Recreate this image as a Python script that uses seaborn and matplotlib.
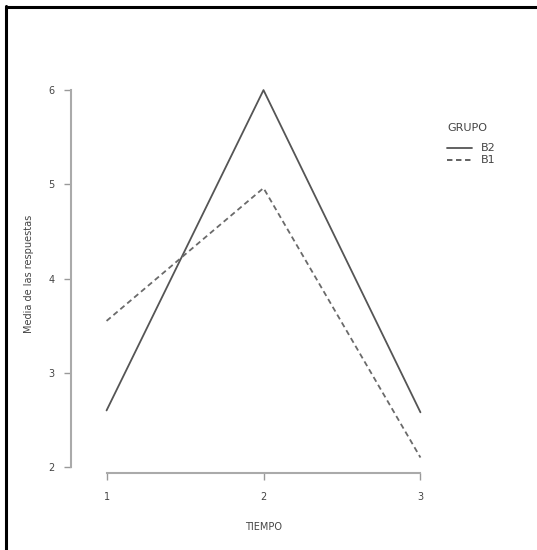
import pandas as pd
import matplotlib
matplotlib.use('Agg')
import matplotlib.pyplot as plt
import seaborn as sns

# values
tiempo = [1, 2, 3]
grupos = ['B2', 'B1']
media_b2 = [2.6, 6.0, 2.58]
media_b1 = [3.55, 4.96, 2.1]
y_ticks = [2, 3, 4, 5, 6]
x_ticks = [1, 2, 3]

df = pd.DataFrame({
    'TIEMPO': tiempo * 2,
    'media': media_b2 + media_b1,
    'GRUPO': ['B2'] * 3 + ['B1'] * 3,
})

sns.set_style('white')
plt.rcParams['font.family'] = ['DejaVu Sans']

W, H = 537, 550
fig = plt.figure(figsize=(W / 100, H / 100), dpi=100)
# plot region in pixels (left, top, right, bottom)
l, t, r, b = 94, 75, 433, 473
ax = fig.add_axes([l / W, 1 - b / H, (r - l) / W, (b - t) / H])

sns.lineplot(data=df, x='TIEMPO', y='media', hue='GRUPO', style='GRUPO',
             hue_order=grupos, style_order=grupos,
             palette={'B2': '#555555', 'B1': '#6a6a6a'},
             dashes={'B2': '', 'B1': (3, 2)}, linewidth=1.3, ax=ax, legend=False)

ax.set_xlim(0.92, 3.08)
ax.set_ylim(1.936, 6.16)
ax.set_xticks(x_ticks)
ax.set_yticks(y_ticks)
ax.tick_params(axis='both', bottom=True, left=True, length=5, width=1,
               color='#999999', labelsize=7, labelcolor='#444444',
               direction='out', pad=9)
ax.tick_params(axis='y', pad=7)
for s in ['top', 'right']:
    ax.spines[s].set_visible(False)
ax.spines['left'].set_position(('outward', 16.5))
ax.spines['left'].set_bounds(2, 6)
ax.spines['bottom'].set_bounds(1, 3)
for s in ['left', 'bottom']:
    ax.spines[s].set_color('#aaaaaa')
    ax.spines[s].set_linewidth(1.5)

ax.set_xlabel('TIEMPO', fontsize=7, color='#444444', labelpad=14)
ax.set_ylabel('Media de las respuestas', fontsize=7, color='#444444', labelpad=10)

# legend on the right, outside the plot region
fig.text(447 / W, 1 - 128 / H, 'GRUPO', fontsize=8, color='#444444', va='center')
for i, (g, ls) in enumerate(zip(grupos, ['-', (0, (3, 2))])):
    yy = 1 - (148 + 12 * i) / H
    fig.add_artist(plt.Line2D([447 / W, 472 / W], [yy, yy], color='#555555',
                              linewidth=1.3, linestyle=ls))
    fig.text(481 / W, yy, g, fontsize=8, color='#444444', va='center')

# black frame only on the top and left edges
fig.add_artist(plt.Line2D([6 / W, 1], [1 - 7 / H, 1 - 7 / H], color='black', linewidth=2.2))
fig.add_artist(plt.Line2D([6 / W, 6 / W], [0, 1 - 6 / H], color='black', linewidth=2.2))

fig.savefig('out.png', dpi=100)
